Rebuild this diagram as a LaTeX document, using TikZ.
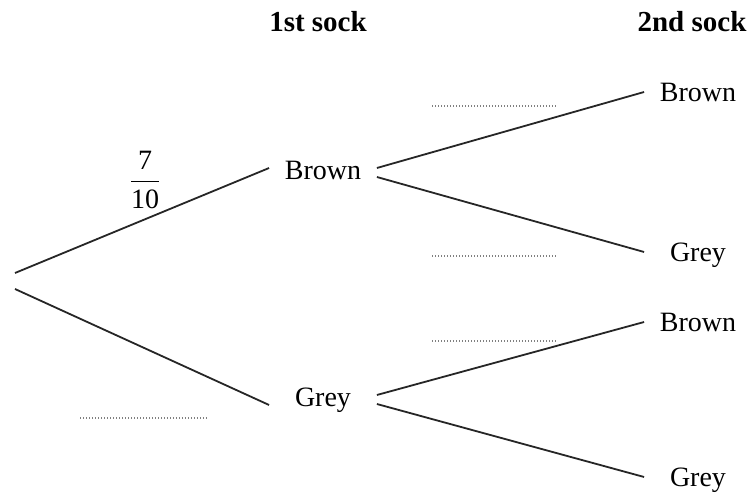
\documentclass[tikz,border=0pt]{standalone}
\usepackage{amsmath}
\usepackage{fontspec}
\setmainfont{Liberation Serif}
\begin{document}
\begin{tikzpicture}[x=0.5pt,y=-0.5pt,
    lbl/.style={anchor=base,inner sep=0pt,minimum width=53.5pt,text height=10pt,text depth=0pt,font=\fontsize{14}{17}\selectfont},
    head/.style={anchor=base,inner sep=0pt,font=\fontsize{14.5}{17}\selectfont\bfseries},
    branch/.style={line width=0.9pt,color=black!85},
    blank/.style={gray,line width=0.6pt,dash pattern=on 0.6pt off 0.9pt}]
            \useasboundingbox (0,0) rectangle (751,497);
            \node[head] (first) at (318,32) {1st sock};
            \node[head] (second) at (692,32) {2nd sock};
            \coordinate (root) at (15,281);
            \node[lbl] (b1) at (323,180) {Brown};
            \node[lbl] (g1) at (323,407) {Grey};
            \node[lbl] (bb) at (698,102) {Brown};
            \node[lbl] (bg) at (698,262) {Grey};
            \node[lbl] (gb) at (698,332) {Brown};
            \node[lbl] (gg) at (698,487) {Grey};
            \node[inner sep=0pt,font=\fontsize{14}{17}\selectfont] (p) at (145,180) {$\dfrac{\text{7}}{\text{10}}$};
            \draw[branch] ([yshift=4pt]root) -- ([yshift=1pt]b1.west);
            \draw[branch] ([yshift=-4pt]root) -- ([yshift=-4pt]g1.west);
            \draw[branch] ([yshift=1pt]b1.east) -- (bb.west);
            \draw[branch] ([yshift=-3.5pt]b1.east) -- (bg.west);
            \draw[branch] ([yshift=1pt]g1.east) -- (gb.west);
            \draw[branch] ([yshift=-3.5pt]g1.east) -- (gg.west);
            \draw[blank] (432,106) -- (557,106);
            \draw[blank] (432,256) -- (557,256);
            \draw[blank] (432,341) -- (557,341);
            \draw[blank] (80,418) -- (208,418);
        \end{tikzpicture}
\end{document}
